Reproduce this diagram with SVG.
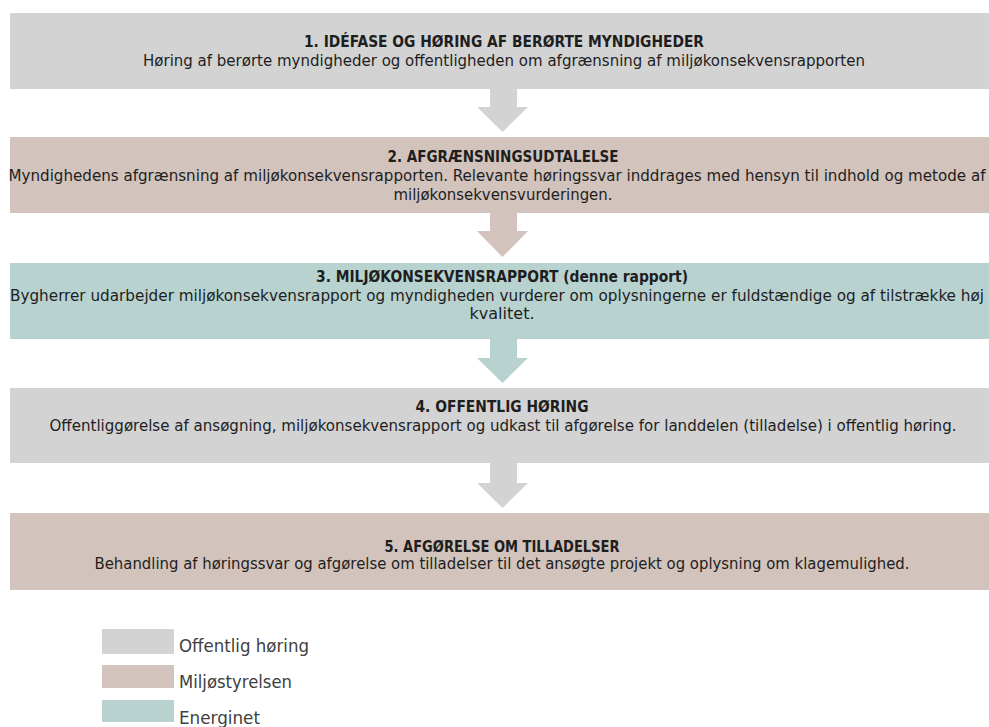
<svg xmlns="http://www.w3.org/2000/svg" width="989" height="727" viewBox="0 0 989 727">
<style>
.gray{fill:#d3d3d3}
.pink{fill:#d2c3bc}
.teal{fill:#b8d2d0}
.t{font-family:"DejaVu Sans Condensed","Liberation Sans",sans-serif;font-size:15px;font-weight:bold;fill:#1e1e1e;text-anchor:middle}
.b{font-family:"DejaVu Sans Condensed","Liberation Sans",sans-serif;font-size:15px;fill:#1e1e1e;text-anchor:middle}
.lg{font-family:"DejaVu Sans Condensed","Liberation Sans",sans-serif;font-size:17px;fill:#404040}
</style>
<rect width="989" height="727" fill="#ffffff"/>
<g id="connectors">
<polygon class="gray" points="490,89 517,89 517,107 528,107 502.5,132 477,107 490,107"/>
<polygon class="pink" points="490,213 517,213 517,231 528,231 502.5,257 477,231 490,231"/>
<polygon class="teal" points="490,339 517,339 517,358 528,358 502.5,383 477,358 490,358"/>
<polygon class="gray" points="490,463 517,463 517,483 528,483 502.5,508 477,483 490,483"/>
</g>
<g id="node1">
<rect class="gray" x="10" y="13" width="979" height="76"/>
<text class="t" x="504" y="47" textLength="400" lengthAdjust="spacingAndGlyphs">1. IDÉFASE OG HØRING AF BERØRTE MYNDIGHEDER</text>
<text class="b" x="504" y="66" textLength="722" lengthAdjust="spacingAndGlyphs">Høring af berørte myndigheder og offentligheden om afgrænsning af miljøkonsekvensrapporten</text>
</g>
<g id="node2">
<rect class="pink" x="10" y="137" width="979" height="76"/>
<text class="t" x="503" y="162" textLength="231" lengthAdjust="spacingAndGlyphs">2. AFGRÆNSNINGSUDTALELSE</text>
<text class="b" x="497" y="181" textLength="977" lengthAdjust="spacingAndGlyphs">Myndighedens afgrænsning af miljøkonsekvensrapporten. Relevante høringssvar inddrages med hensyn til indhold og metode af</text>
<text class="b" x="503" y="200" textLength="219" lengthAdjust="spacingAndGlyphs">miljøkonsekvensvurderingen.</text>
</g>
<g id="node3">
<rect class="teal" x="10" y="263" width="979" height="76"/>
<text class="t" x="502" y="282" textLength="372" lengthAdjust="spacingAndGlyphs">3. MILJØKONSEKVENSRAPPORT (denne rapport)</text>
<text class="b" x="497" y="301" textLength="974" lengthAdjust="spacingAndGlyphs">Bygherrer udarbejder miljøkonsekvensrapport og myndigheden vurderer om oplysningerne er fuldstændige og af tilstrække høj</text>
<text class="b" x="502" y="319" textLength="65" lengthAdjust="spacingAndGlyphs">kvalitet.</text>
</g>
<g id="node4">
<rect class="gray" x="10" y="388" width="979" height="75"/>
<text class="t" x="502" y="412" textLength="173" lengthAdjust="spacingAndGlyphs">4. OFFENTLIG HØRING</text>
<text class="b" x="503" y="431" textLength="907" lengthAdjust="spacingAndGlyphs">Offentliggørelse af ansøgning, miljøkonsekvensrapport og udkast til afgørelse for landdelen (tilladelse) i offentlig høring.</text>
</g>
<g id="node5">
<rect class="pink" x="10" y="513" width="979" height="77"/>
<text class="t" x="502" y="552" textLength="235" lengthAdjust="spacingAndGlyphs">5. AFGØRELSE OM TILLADELSER</text>
<text class="b" x="502" y="569" textLength="815" lengthAdjust="spacingAndGlyphs">Behandling af høringssvar og afgørelse om tilladelser til det ansøgte projekt og oplysning om klagemulighed.</text>
</g>
<g id="legend">
<rect class="gray" x="102" y="629" width="72" height="25"/>
<text class="lg" x="179" y="652" textLength="130" lengthAdjust="spacingAndGlyphs">Offentlig høring</text>
<rect class="pink" x="102" y="665" width="72" height="23"/>
<text class="lg" x="179" y="688" textLength="113" lengthAdjust="spacingAndGlyphs">Miljøstyrelsen</text>
<rect class="teal" x="102" y="700" width="72" height="22"/>
<text class="lg" x="179" y="724" textLength="81" lengthAdjust="spacingAndGlyphs">Energinet</text>
</g>
</svg>
